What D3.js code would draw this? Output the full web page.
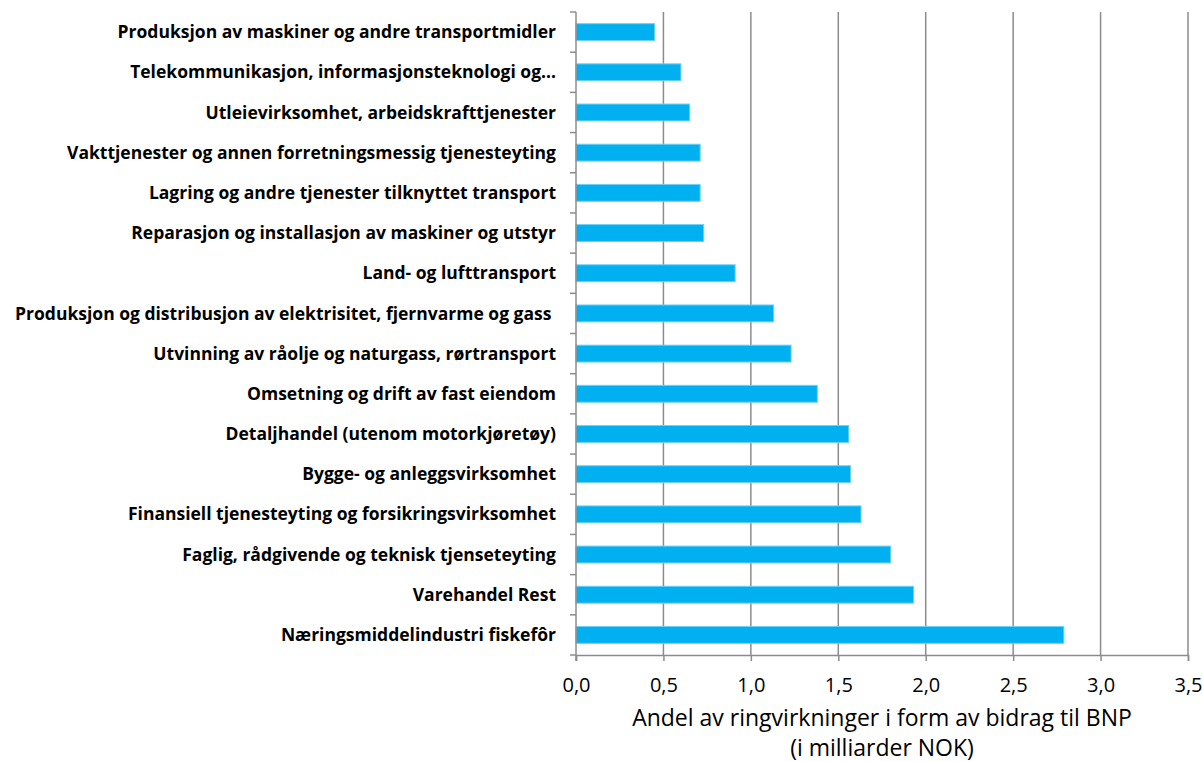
<!DOCTYPE html>
<html>
<head>
<meta charset="utf-8">
<script src="https://cdn.jsdelivr.net/npm/d3@7"></script>
<style>
	body { margin: 0; background: #fff; }
	text { font-family: "Open Sans", Lato, sans-serif; }
</style>
</head>
<body>
<div id="chart"></div>
<script>
	// categories, top to bottom
	var categories = [
		"Produksjon av maskiner og andre transportmidler",
		"Telekommunikasjon, informasjonsteknologi og\u2026",
		"Utleievirksomhet, arbeidskrafttjenester",
		"Vakttjenester og annen forretningsmessig tjenesteyting",
		"Lagring og andre tjenester tilknyttet transport",
		"Reparasjon og installasjon av maskiner og utstyr",
		"Land- og lufttransport",
		"Produksjon og distribusjon av elektrisitet, fjernvarme og gass\u00a0",
		"Utvinning av råolje og naturgass, rørtransport",
		"Omsetning og drift av fast eiendom",
		"Detaljhandel (utenom motorkjøretøy)",
		"Bygge- og anleggsvirksomhet",
		"Finansiell tjenesteyting og forsikringsvirksomhet",
		"Faglig, rådgivende og teknisk tjenseteyting",
		"Varehandel Rest",
		"Næringsmiddelindustri fiskefôr"
	];
	var values = [0.45, 0.60, 0.65, 0.71, 0.71, 0.73, 0.91, 1.13, 1.23, 1.38, 1.56, 1.57, 1.63, 1.80, 1.93, 2.79];
	var xTicks = [0, 0.5, 1, 1.5, 2, 2.5, 3, 3.5];
	var titleLines = ["Andel av ringvirkninger i form av bidrag til BNP", "(i milliarder NOK)"];

	var width = 1203, height = 762;
	var pLeft = 576, pRight = 1188, pTop = 12, pBottom = 655;

	var svg = d3.select("#chart").append("svg")
		.attr("width", width)
		.attr("height", height);

	var x = d3.scaleLinear().domain([0, 3.5]).range([pLeft, pRight]);
	var y = d3.scaleBand().domain(categories).range([pTop, pBottom]).paddingInner(0.58).paddingOuter(0.29);
	var yb = d3.scaleBand().domain(categories).range([pTop, pBottom]);

	// gridlines
	svg.append("g").selectAll("line")
		.data(xTicks.slice(1))
		.enter().append("line")
		.attr("x1", function(d) { return x(d); })
		.attr("x2", function(d) { return x(d); })
		.attr("y1", pTop)
		.attr("y2", pBottom)
		.attr("stroke", "#8c8c8c")
		.attr("stroke-width", 1.5);

	// bars
	svg.append("g").selectAll("rect")
		.data(values)
		.enter().append("rect")
		.attr("x", x(0))
		.attr("y", function(d, i) { return y(categories[i]); })
		.attr("width", function(d) { return x(d) - x(0); })
		.attr("height", y.bandwidth())
		.attr("fill", "#00b0f0")
		.attr("stroke", "#6fd0f5")
		.attr("stroke-width", 1);

	// y axis
	var yAxis = svg.append("g");
	yAxis.append("line")
		.attr("x1", pLeft).attr("x2", pLeft)
		.attr("y1", pTop).attr("y2", pBottom + 6)
		.attr("stroke", "#8c8c8c").attr("stroke-width", 1.5);
	yAxis.selectAll(".tk")
		.data(categories.concat(["_end"]))
		.enter().append("line")
		.attr("x1", pLeft - 6).attr("x2", pLeft)
		.attr("y1", function(d, i) { return pTop + i * yb.step(); })
		.attr("y2", function(d, i) { return pTop + i * yb.step(); })
		.attr("stroke", "#8c8c8c").attr("stroke-width", 1.5);
	yAxis.selectAll("text")
		.data(categories)
		.enter().append("text")
		.attr("x", 556)
		.attr("y", function(d) { return yb(d) + yb.bandwidth() / 2; })
		.attr("dy", "0.35em")
		.attr("text-anchor", "end")
		.attr("font-size", "17.5px")
		.attr("font-weight", "bold")
		.attr("fill", "#000")
		.text(function(d) { return d; });

	// x axis
	var xAxis = svg.append("g")
		.attr("transform", "translate(0," + pBottom + ")")
		.call(d3.axisBottom(x).tickValues(xTicks).tickSize(6).tickFormat(function(d) { return d3.format(".1f")(d).replace(".", ","); }));
	xAxis.select(".domain").attr("stroke", "#8c8c8c").attr("stroke-width", 1.5);
	xAxis.selectAll(".tick line").attr("stroke", "#8c8c8c").attr("stroke-width", 1.5);
	xAxis.selectAll(".tick text")
		.attr("font-family", "'Open Sans', Lato, sans-serif")
		.attr("font-size", "20px")
		.attr("fill", "#000")
		.attr("y", 23);

	// axis title
	svg.append("g").selectAll("text")
		.data(titleLines)
		.enter().append("text")
		.attr("x", 882)
		.attr("y", function(d, i) { return 726 + i * 30; })
		.attr("text-anchor", "middle")
		.attr("font-size", "23px")
		.attr("fill", "#000")
		.text(function(d) { return d; });
</script>
</body>
</html>
